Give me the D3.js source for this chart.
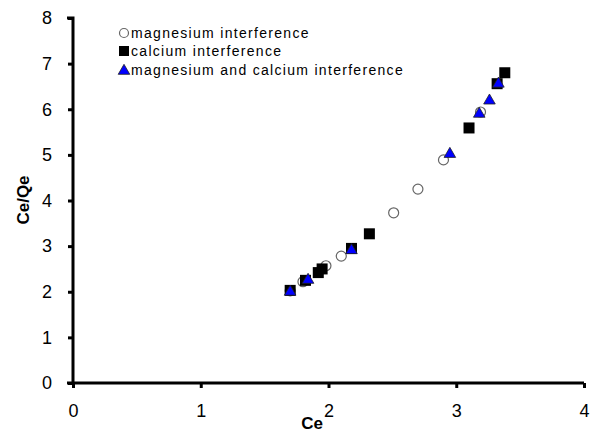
<!DOCTYPE html>
<html>
<head>
<meta charset="utf-8">
<script src="https://cdn.jsdelivr.net/npm/d3@7"></script>
<style>
  body { margin: 0; background: #fff; }
  svg { font-family: "Liberation Sans", Arial, sans-serif; }
</style>
</head>
<body>
<div id="chart"></div>
<script>
// Ce vs Ce/Qe, three interference series
var magnesium = [[1.70, 2.02], [1.80, 2.22], [1.98, 2.57], [2.10, 2.78], [2.51, 3.73], [2.70, 4.25], [2.90, 4.89], [3.19, 5.94]];
var calcium = [[1.70, 2.03], [1.82, 2.25], [1.92, 2.42], [1.95, 2.50], [2.18, 2.95], [2.32, 3.27], [3.10, 5.59], [3.32, 6.56], [3.38, 6.80]];
var both = [[1.70, 2.02], [1.84, 2.28], [2.18, 2.93], [2.95, 5.04], [3.18, 5.92], [3.26, 6.21], [3.33, 6.58]];
var xTicks = [0, 1, 2, 3, 4];
var yTicks = [0, 1, 2, 3, 4, 5, 6, 7, 8];
var legendLabels = ["magnesium interference", "calcium interference", "magnesium and calcium interference"];

function init()
{
  var w = 590;
  var h = 432;

  var svg = d3.select("#chart")
              .append("svg")
              .attr("width", w)
              .attr("height", h);

  var x = d3.scaleLinear().domain([0, 4]).range([73, 584]);
  var y = d3.scaleLinear().domain([0, 8]).range([383, 18]);

  // axes
  var xAxis = d3.axisBottom(x).tickValues(xTicks).tickSize(5).tickPadding(16).tickFormat(d3.format("d"));
  var yAxis = d3.axisLeft(y).tickValues(yTicks).tickSize(5).tickPadding(16).tickFormat(d3.format("d"));

  var gx = svg.append("g").attr("transform", "translate(0," + y(0) + ")").call(xAxis);
  var gy = svg.append("g").attr("transform", "translate(" + x(0) + ",0)").call(yAxis);

  [gx, gy].forEach(function(g){
    g.select(".domain").attr("stroke", "#000").attr("stroke-width", 3);
    g.selectAll(".tick line").attr("stroke", "#000").attr("stroke-width", 3);
    g.selectAll(".tick text").attr("fill", "#000").style("font-size", "18px");
  });
  gx.select(".domain").attr("d", "M" + (x(0) - 6) + ",0H" + x(4));
  gy.select(".domain").attr("d", "M-6," + y(8) + "H0V" + y(0));

  // axis titles
  svg.append("text")
     .attr("transform", "translate(29," + 200 + ") rotate(-90)")
     .attr("text-anchor", "middle")
     .style("font-size", "17px")
     .style("font-weight", "bold")
     .text("Ce/Qe");

  svg.append("text")
     .attr("x", 312)
     .attr("y", 429)
     .attr("text-anchor", "middle")
     .style("font-size", "17px")
     .style("font-weight", "bold")
     .text("Ce");

  var tri = d3.symbol().type(d3.symbolTriangle).size(58);

  // magnesium: open circles
  svg.selectAll("circle.mg")
     .data(magnesium)
     .enter()
     .append("circle")
     .attr("class", "mg")
     .attr("cx", function(d){ return x(d[0]); })
     .attr("cy", function(d){ return y(d[1]); })
     .attr("r", 5)
     .attr("fill", "#fff")
     .attr("stroke", "#666")
     .attr("stroke-width", 1.2);

  // calcium: black squares
  svg.selectAll("rect.ca")
     .data(calcium)
     .enter()
     .append("rect")
     .attr("class", "ca")
     .attr("x", function(d){ return x(d[0]) - 5.5; })
     .attr("y", function(d){ return y(d[1]) - 5.5; })
     .attr("width", 11)
     .attr("height", 11)
     .attr("fill", "#000");

  // both: blue triangles
  svg.selectAll("path.both")
     .data(both)
     .enter()
     .append("path")
     .attr("class", "both")
     .attr("d", tri)
     .attr("transform", function(d){ return "translate(" + x(d[0]) + "," + (y(d[1]) + 1) + ")"; })
     .attr("fill", "#0000ff")
     .attr("stroke", "#222")
     .attr("stroke-width", 0.8);

  // legend
  var lg = svg.append("g");
  var rows = [33, 51, 70];
  lg.append("circle").attr("cx", 124).attr("cy", rows[0]).attr("r", 4.5)
    .attr("fill", "#fff").attr("stroke", "#666").attr("stroke-width", 1.2);
  lg.append("rect").attr("x", 119).attr("y", rows[1] - 5).attr("width", 10).attr("height", 10).attr("fill", "#000");
  lg.append("path").attr("d", tri).attr("transform", "translate(124," + (rows[2] + 1) + ")")
    .attr("fill", "#0000ff").attr("stroke", "#222").attr("stroke-width", 0.8);

  lg.selectAll("text")
    .data(legendLabels)
    .enter()
    .append("text")
    .attr("x", 131)
    .attr("y", function(d, i){ return rows[i] + 5; })
    .style("font-size", "14px")
    .style("letter-spacing", "1.3px")
    .attr("fill", "#000")
    .text(function(d){ return d; });
}

window.onload = init;
</script>
</body>
</html>
